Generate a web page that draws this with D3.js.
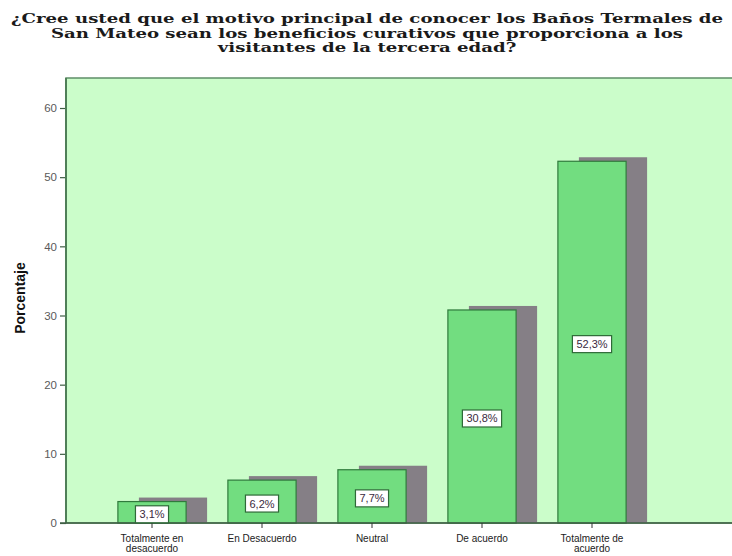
<!DOCTYPE html>
<html>
<head>
<meta charset="utf-8">
<script src="https://cdn.jsdelivr.net/npm/d3@7"></script>
<style>
  html, body { margin: 0; padding: 0; background: #ffffff; }
  svg { display: block; }
</style>
</head>
<body>
<svg id="chart" width="732" height="556"></svg>
<script>
// Survey answers and their percentages
const categories = [
  ["Totalmente en", "desacuerdo"],
  ["En Desacuerdo"],
  ["Neutral"],
  ["De acuerdo"],
  ["Totalmente de", "acuerdo"]
];
const values = [3.1, 6.2, 7.7, 30.8, 52.3];
const valueLabels = ["3,1%", "6,2%", "7,7%", "30,8%", "52,3%"];
const yTicks = [0, 10, 20, 30, 40, 50, 60];
const titleLines = [
  "¿Cree usted que el motivo principal de conocer los Baños Termales de",
  "San Mateo sean los beneficios curativos que proporciona a los",
  "visitantes de la tercera edad?"
];

const svg = d3.select("#chart");
const W = 732, H = 556;
const plot = { left: 66, top: 78, right: 740, bottom: 523 };

const keys = categories.map((c, i) => i);
const x = d3.scaleBand()
  .domain(keys)
  .range([97, 647])
  .paddingInner(0.38)
  .paddingOuter(0.19);

const y = d3.scaleLinear()
  .domain([0, 60])
  .range([plot.bottom, 108]);

// Title: bold serif, stretched so the first line spans the page
const titleSize = 12.5;
const title = svg.append("g")
  .attr("font-family", "'DejaVu Serif', serif")
  .attr("font-weight", "bold")
  .attr("font-size", titleSize)
  .attr("fill", "#1a1a1a")
  .attr("text-anchor", "middle");
const titleY = [23, 37.5, 52];
const titleNodes = titleLines.map((t, i) =>
  title.append("text")
    .attr("x", W / 2 + 1)
    .attr("y", titleY[i])
    .text(t)
);
const stretch = 712 / titleNodes[0].node().getComputedTextLength();
titleNodes.forEach(n => {
  const len = n.node().getComputedTextLength() * stretch;
  n.attr("textLength", len.toFixed(1)).attr("lengthAdjust", "spacingAndGlyphs");
});

// Plot background
svg.append("rect")
  .attr("x", plot.left)
  .attr("y", plot.top)
  .attr("width", plot.right - plot.left)
  .attr("height", plot.bottom - plot.top)
  .attr("fill", "#cbfdca")
  .attr("stroke", "#5f8f68")
  .attr("stroke-width", 1.5);

// Bars: shadow behind, green bar in front
const bars = svg.append("g");
const shadowDx = 21, shadowDy = 4;

bars.selectAll("rect.shadow")
  .data(values)
  .join("rect")
  .attr("class", "shadow")
  .attr("x", (d, i) => x(i) + shadowDx)
  .attr("y", d => y(d) - shadowDy)
  .attr("width", x.bandwidth())
  .attr("height", d => y(0) - y(d) + shadowDy)
  .attr("fill", "#857f86");

bars.selectAll("rect.bar")
  .data(values)
  .join("rect")
  .attr("class", "bar")
  .attr("x", (d, i) => x(i))
  .attr("y", d => y(d))
  .attr("width", x.bandwidth())
  .attr("height", d => y(0) - y(d))
  .attr("fill", "#72dd80")
  .attr("stroke", "#2f7a3c")
  .attr("stroke-width", 1.2);

// Axes
const yAxis = d3.axisLeft(y)
  .tickValues(yTicks)
  .tickSize(6)
  .tickPadding(3);
const gy = svg.append("g")
  .attr("transform", `translate(${plot.left},0)`)
  .call(yAxis);
gy.select(".domain").remove();
gy.selectAll(".tick line").attr("stroke", "#3f5f45").attr("stroke-width", 1.2);
gy.selectAll(".tick text")
  .attr("font-family", "Arial, 'Liberation Sans', sans-serif")
  .attr("font-size", 11.5)
  .attr("fill", "#5a5a5a");

svg.append("line")
  .attr("x1", plot.left).attr("x2", plot.left)
  .attr("y1", plot.top).attr("y2", plot.bottom)
  .attr("stroke", "#4f7f58").attr("stroke-width", 2);

svg.append("line")
  .attr("x1", plot.left - 6).attr("x2", W)
  .attr("y1", plot.bottom).attr("y2", plot.bottom)
  .attr("stroke", "#3f5f45").attr("stroke-width", 1.5);

const xAxis = d3.axisBottom(x).tickSize(5).tickFormat(() => "");
const gx = svg.append("g")
  .attr("transform", `translate(0,${plot.bottom})`)
  .call(xAxis);
gx.select(".domain").remove();
gx.selectAll(".tick line").attr("stroke", "#333333");

// Category labels (wrapped)
const catG = svg.append("g")
  .attr("font-family", "Arial, 'Liberation Sans', sans-serif")
  .attr("font-size", 10)
  .attr("fill", "#222222")
  .attr("text-anchor", "middle");
categories.forEach((lines, i) => {
  lines.forEach((ln, j) => {
    catG.append("text")
      .attr("x", x(i) + x.bandwidth() / 2)
      .attr("y", 542 + j * 10)
      .text(ln);
  });
});

// Y axis title
svg.append("text")
  .attr("transform", "translate(25,298) rotate(-90)")
  .attr("text-anchor", "middle")
  .attr("font-family", "Arial, 'Liberation Sans', sans-serif")
  .attr("font-weight", "bold")
  .attr("font-size", 14)
  .attr("fill", "#111111")
  .text("Porcentaje");

// Value labels in white boxes near the middle of each bar
const lab = svg.append("g");
values.forEach((v, i) => {
  const cx = x(i) + x.bandwidth() / 2;
  let cy = (y(v) + y(0)) / 2 + 2;
  cy = Math.min(cy, plot.bottom - 7);
  const t = lab.append("text")
    .attr("x", cx)
    .attr("y", cy + 4)
    .attr("text-anchor", "middle")
    .attr("font-family", "Arial, 'Liberation Sans', sans-serif")
    .attr("font-size", 11)
    .attr("fill", "#3a2a40")
    .text(valueLabels[i]);
  const w = t.node().getComputedTextLength() + 8;
  lab.insert("rect", "text")
    .attr("x", cx - w / 2)
    .attr("y", cy - 8.5)
    .attr("width", w)
    .attr("height", 17)
    .attr("fill", "#ffffff")
    .attr("stroke", "#2f6a38")
    .attr("stroke-width", 1.2);
});
</script>
</body>
</html>
